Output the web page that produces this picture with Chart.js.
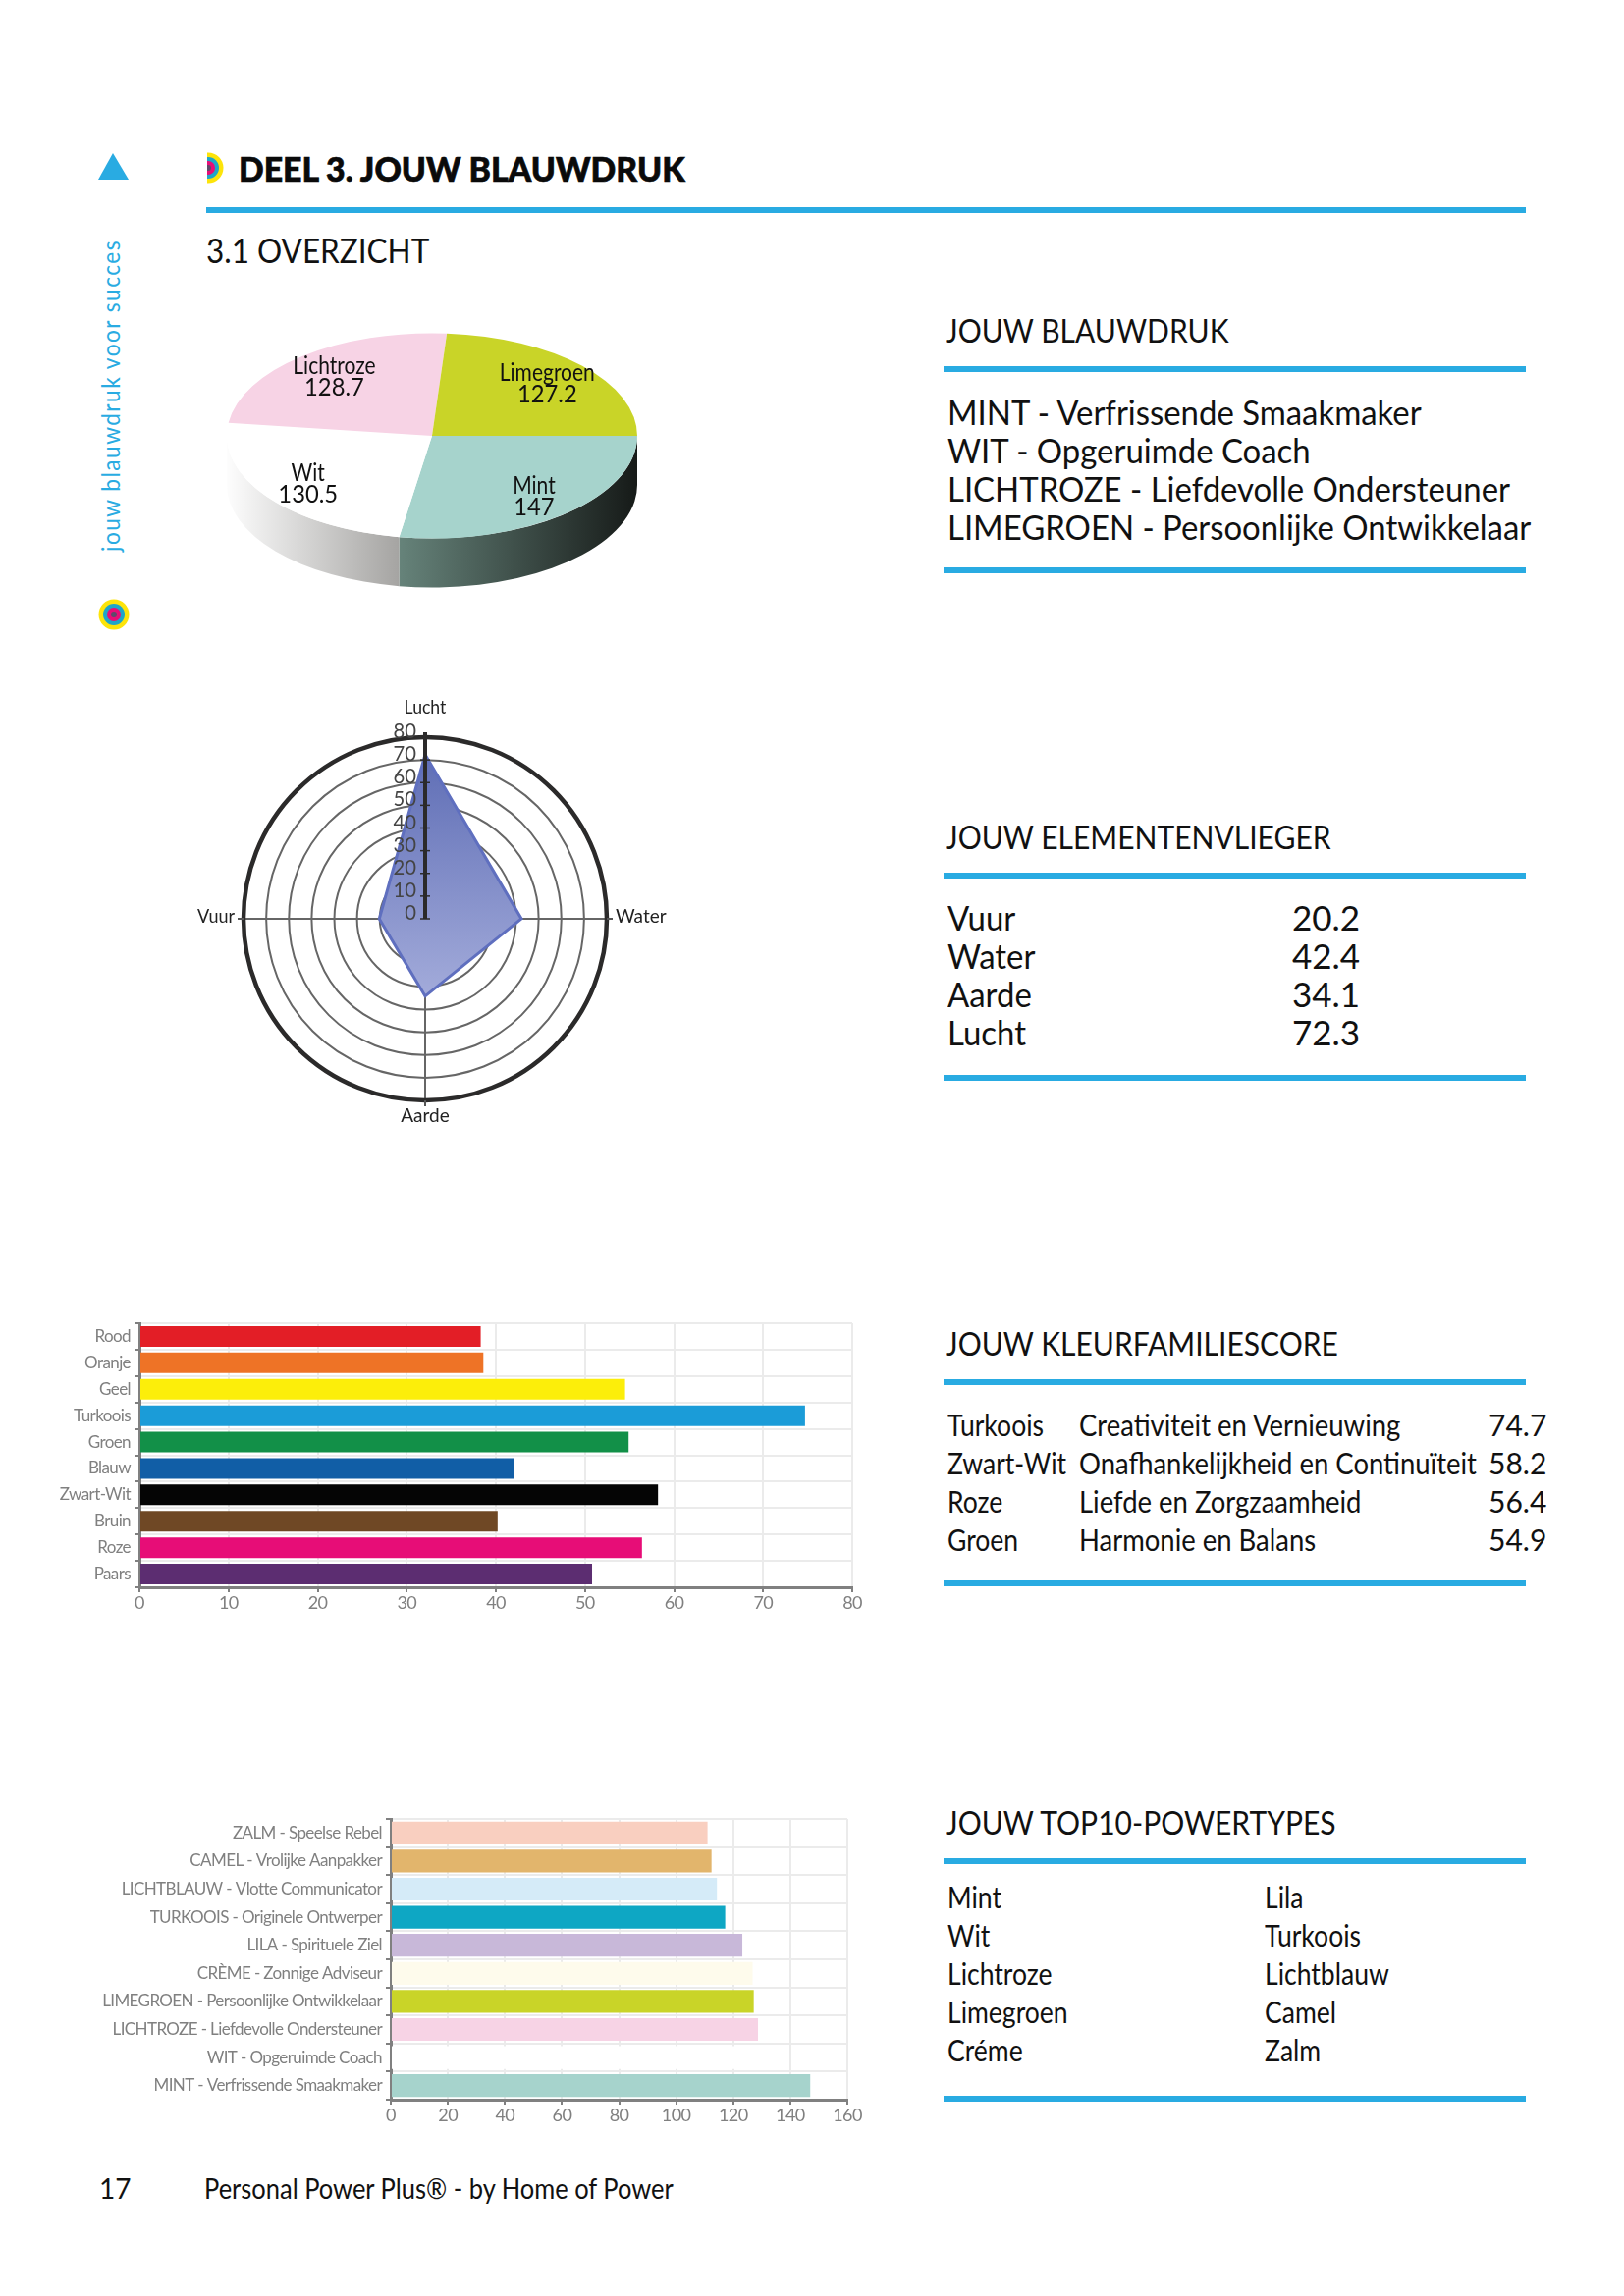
<!DOCTYPE html>
<html lang="nl">
<head>
<meta charset="utf-8">
<title>Deel 3. Jouw blauwdruk</title>
<script src="https://cdn.jsdelivr.net/npm/chart.js@4"></script>
<style>
html,body{margin:0;padding:0;background:#fff;}
#page{position:relative;width:1654px;height:2339px;overflow:hidden;font-family:Lato,"Noto Sans",sans-serif;color:#111;}
#page canvas{position:absolute;}
.t{position:absolute;white-space:nowrap;line-height:1;transform-origin:left center;}
.rule{position:absolute;background:#29abe2;height:6px;left:961px;width:593px;}
.h{font-size:33px;left:963px;transform:scaleX(.91);}
.b{font-size:35px;}
.s{font-size:30px;}
.bc{transform:scaleX(.94);}
.ec{transform:scaleX(.94);}
.sc{transform:scaleX(.885);}
.mc{transform:scaleX(.915);}
</style>
</head>
<body>
<div id="page">
  <svg style="position:absolute;left:0;top:0" width="260" height="660">
    <polygon points="115,156 100,183 131,183" fill="#29abe2"/>
    <g>
      <circle cx="116" cy="626" r="15.5" fill="#fde40a"/>
      <circle cx="116" cy="626" r="11" fill="#1fa5c9"/>
      <circle cx="116" cy="626" r="7" fill="#e70d77"/>
      <circle cx="116" cy="626" r="3" fill="#5c4a6a"/>
    </g>
    <g>
      <clipPath id="half"><rect x="211" y="150" width="30" height="44"/></clipPath>
      <g clip-path="url(#half)">
        <circle cx="212" cy="171" r="15.5" fill="#fde40a"/>
        <circle cx="212" cy="171" r="11" fill="#1fa5c9"/>
        <circle cx="212" cy="171" r="7" fill="#e70d77"/>
        <circle cx="212" cy="171" r="3" fill="#5c4a6a"/>
      </g>
    </g>
  </svg>
  <div class="t" style="left:112px;top:403px;font-size:25px;letter-spacing:1.6px;color:#29abe2;transform-origin:center;transform:translate(-50%,-50%) rotate(-90deg) scaleX(.907);">jouw blauwdruk voor succes</div>

  <div class="t" style="left:243px;top:154px;font-size:35px;font-weight:900;color:#0a0a0a;-webkit-text-stroke:.7px #0a0a0a;transform:scaleX(.965);">DEEL 3. JOUW BLAUWDRUK</div>
  <div class="rule" style="left:210px;width:1344px;top:211px;"></div>
  <div class="t" style="left:210px;top:238px;font-size:34px;transform:scaleX(.926);">3.1 OVERZICHT</div>

  <div class="t h" style="top:320px;">JOUW BLAUWDRUK</div>
  <div class="rule" style="top:373px;"></div>
  <div class="t b bc" style="left:965px;top:402px;">MINT - Verfrissende Smaakmaker</div>
  <div class="t b bc" style="left:965px;top:441px;">WIT - Opgeruimde Coach</div>
  <div class="t b bc" style="left:965px;top:480px;">LICHTROZE - Liefdevolle Ondersteuner</div>
  <div class="t b bc" style="left:965px;top:519px;">LIMEGROEN - Persoonlijke Ontwikkelaar</div>
  <div class="rule" style="top:578px;"></div>

  <div class="t h" style="top:836px;">JOUW ELEMENTENVLIEGER</div>
  <div class="rule" style="top:889px;"></div>
  <div class="t b ec" style="left:965px;top:917px;">Vuur</div><div class="t b" style="left:1316px;top:917px;">20.2</div>
  <div class="t b ec" style="left:965px;top:956px;">Water</div><div class="t b" style="left:1316px;top:956px;">42.4</div>
  <div class="t b ec" style="left:965px;top:995px;">Aarde</div><div class="t b" style="left:1316px;top:995px;">34.1</div>
  <div class="t b ec" style="left:965px;top:1034px;">Lucht</div><div class="t b" style="left:1316px;top:1034px;">72.3</div>
  <div class="rule" style="top:1095px;"></div>

  <div class="t h" style="top:1352px;">JOUW KLEURFAMILIESCORE</div>
  <div class="rule" style="top:1405px;"></div>
  <div class="t s sc" style="left:965px;top:1436px;">Turkoois</div><div class="t s mc" style="left:1099px;top:1436px;">Creativiteit en Vernieuwing</div><div class="t s" style="left:1516px;top:1436px;">74.7</div>
  <div class="t s sc" style="left:965px;top:1475px;">Zwart-Wit</div><div class="t s mc" style="left:1099px;top:1475px;">Onafhankelijkheid en Continuïteit</div><div class="t s" style="left:1516px;top:1475px;">58.2</div>
  <div class="t s sc" style="left:965px;top:1514px;">Roze</div><div class="t s mc" style="left:1099px;top:1514px;">Liefde en Zorgzaamheid</div><div class="t s" style="left:1516px;top:1514px;">56.4</div>
  <div class="t s sc" style="left:965px;top:1553px;">Groen</div><div class="t s mc" style="left:1099px;top:1553px;">Harmonie en Balans</div><div class="t s" style="left:1516px;top:1553px;">54.9</div>
  <div class="rule" style="top:1610px;"></div>

  <div class="t h" style="top:1840px;">JOUW TOP10-POWERTYPES</div>
  <div class="rule" style="top:1893px;"></div>
  <div class="t s sc" style="left:965px;top:1917px;">Mint</div><div class="t s sc" style="left:1288px;top:1917px;">Lila</div>
  <div class="t s sc" style="left:965px;top:1956px;">Wit</div><div class="t s sc" style="left:1288px;top:1956px;">Turkoois</div>
  <div class="t s sc" style="left:965px;top:1995px;">Lichtroze</div><div class="t s sc" style="left:1288px;top:1995px;">Lichtblauw</div>
  <div class="t s sc" style="left:965px;top:2034px;">Limegroen</div><div class="t s sc" style="left:1288px;top:2034px;">Camel</div>
  <div class="t s sc" style="left:965px;top:2073px;">Créme</div><div class="t s sc" style="left:1288px;top:2073px;">Zalm</div>
  <div class="rule" style="top:2135px;"></div>

  <div class="t" style="left:101px;top:2215px;font-size:28px;">17</div>
  <div class="t" style="left:208px;top:2215px;font-size:28px;transform:scaleX(.91);">Personal Power Plus® - by Home of Power</div>

  <canvas id="pie" style="left:220px;top:224px" width="440" height="440"></canvas>
  <canvas id="radar" style="left:173px;top:676px" width="520" height="520"></canvas>
  <canvas id="fam" style="left:50px;top:1330px" width="860" height="320"></canvas>
  <canvas id="top10" style="left:90px;top:1830px" width="800" height="340"></canvas>
</div>

<script>
// taartdiagram
const pieLabels = ['Mint','Wit','Lichtroze','Limegroen'];
const pieValues = [147,130.5,128.7,127.2];
const pieColors = ['#a6d3cc','#ffffff','#f7d3e5','#c9d428'];
const pieWallFrom = ['#66837a','#fdfdfd'];
const pieWallTo = ['#161a18','#a5a4a2'];

// elementenvlieger
const radarLabels = ['Lucht','Water','Aarde','Vuur'];
const radarValues = [72.3,42.4,34.1,20.2];

// kleurfamilies
const famLabels = ['Rood','Oranje','Geel','Turkoois','Groen','Blauw','Zwart-Wit','Bruin','Roze','Paars'];
const famValues = [38.3,38.6,54.5,74.7,54.9,42,58.2,40.2,56.4,50.8];
const famColors = ['#e31e26','#ee7326','#fcee0a','#1b9cd8','#129048','#115ea6','#050505','#6f4825','#e70d77','#5c2d71'];

// powertypes
const topLabels = ['ZALM - Speelse Rebel','CAMEL - Vrolijke Aanpakker','LICHTBLAUW - Vlotte Communicator','TURKOOIS - Originele Ontwerper','LILA - Spirituele Ziel','CRÈME - Zonnige Adviseur','LIMEGROEN - Persoonlijke Ontwikkelaar','LICHTROZE - Liefdevolle Ondersteuner','WIT - Opgeruimde Coach','MINT - Verfrissende Smaakmaker'];
const topValues = [111,112.4,114.3,117.2,123.2,126.8,127.2,128.7,130.5,147];
const topColors = ['#f9cfc0','#e2b56c','#d5ebf8','#0ea7c4','#c8b8d9','#fefbec','#c9d428','#f7d3e5','#ffffff','#a6d3cc'];

const FONT = 'Lato';
Chart.defaults.font.family = FONT;
Chart.defaults.animation = false;
Chart.defaults.responsive = false;
Chart.defaults.plugins.legend.display = false;
Chart.defaults.plugins.tooltip.enabled = false;

const TILT = 0.5, WALL = 50;

// tekst iets smaller zetten, de futura van het origineel loopt krapper dan Lato
function narrowText(ctx,text,x,y,sx){
  ctx.save();
  ctx.translate(x,y); ctx.scale(sx,1);
  ctx.fillText(text,0,0);
  ctx.restore();
}

// schuine taart: muur tekenen, cirkel platdrukken, labels er los overheen
const tiltPlugin = {
  id:'tilt',
  beforeDatasetsDraw(chart){
    const {ctx} = chart, arcs = chart.getDatasetMeta(0).data;
    arcs.forEach((a,i)=>{
      const s = Math.max(a.startAngle,0), e = Math.min(a.endAngle,Math.PI);
      if(e<=s) return;
      const R = a.outerRadius, cx = a.x, cy = a.y;
      const x1 = cx+R*Math.cos(s), x2 = cx+R*Math.cos(e);
      const g = ctx.createLinearGradient(x2,0,x1,0);
      g.addColorStop(0,pieWallFrom[i]); g.addColorStop(1,pieWallTo[i]);
      ctx.beginPath();
      ctx.ellipse(cx,cy,R,R*TILT,0,s,e);
      ctx.lineTo(x2,cy+R*TILT*Math.sin(e)+WALL);
      ctx.ellipse(cx,cy+WALL,R,R*TILT,0,e,s,true);
      ctx.closePath();
      ctx.fillStyle = g; ctx.fill();
    });
    const c = arcs[0];
    ctx.save();
    ctx.translate(c.x,c.y); ctx.scale(1,TILT); ctx.translate(-c.x,-c.y);
  },
  afterDatasetsDraw(chart){
    const {ctx} = chart;
    ctx.restore();
    ctx.font = '25px '+FONT; ctx.fillStyle = '#111'; ctx.textAlign = 'center'; ctx.textBaseline = 'middle';
    chart.getDatasetMeta(0).data.forEach((a,i)=>{
      const m = (a.startAngle+a.endAngle)/2, r = a.outerRadius*.76;
      const x = a.x+r*Math.cos(m)+1, y = a.y+r*TILT*Math.sin(m)+1;
      narrowText(ctx,pieLabels[i],x,y-11,.84);
      narrowText(ctx,String(pieValues[i]),x,y+11,.95);
    });
  }
};

new Chart(document.getElementById('pie'),{
  type:'pie',
  data:{labels:pieLabels,datasets:[{data:pieValues,backgroundColor:pieColors,borderWidth:0}]},
  options:{rotation:90,radius:209,layout:{padding:0},events:[]},
  plugins:[tiltPlugin]
});

// zwarte buitenring en schaal op de bovenste as
const ringPlugin = {
  id:'ring',
  afterDatasetsDraw(chart){
    const {ctx} = chart, r = chart.scales.r;
    const cx = r.xCenter, cy = r.yCenter, R = r.drawingArea;
    ctx.save();
    ctx.strokeStyle = '#2b2a2a'; ctx.lineWidth = 4.5;
    ctx.beginPath(); ctx.arc(cx,cy,R,0,Math.PI*2); ctx.stroke();
    ctx.lineWidth = 4; ctx.beginPath(); ctx.moveTo(cx,cy); ctx.lineTo(cx,cy-R-5); ctx.stroke();
    ctx.lineWidth = 1.5;
    ctx.font = '22px '+FONT; ctx.fillStyle = '#444'; ctx.textAlign = 'right'; ctx.textBaseline = 'middle';
    r.ticks.forEach(t=>{
      const y = r.getPointPositionForValue(0,t.value).y;
      ctx.beginPath(); ctx.moveTo(cx-5,y); ctx.lineTo(cx+5,y); ctx.stroke();
      narrowText(ctx,t.label,cx-9,y-6,.92);
    });
    ctx.strokeStyle = '#555'; ctx.lineWidth = 2;
    ctx.beginPath();
    ctx.moveTo(cx-R-6,cy); ctx.lineTo(cx-R,cy);
    ctx.moveTo(cx+R,cy); ctx.lineTo(cx+R+6,cy);
    ctx.moveTo(cx,cy+R); ctx.lineTo(cx,cy+R+6);
    ctx.stroke();
    ctx.restore();
  }
};

const radarCanvas = document.getElementById('radar');
const radarFill = radarCanvas.getContext('2d').createLinearGradient(0,90,0,350);
radarFill.addColorStop(0,'#5e6db5');
radarFill.addColorStop(1,'#a6aedc');

new Chart(radarCanvas,{
  type:'radar',
  data:{labels:radarLabels,datasets:[{data:radarValues,backgroundColor:radarFill,fill:true,borderColor:'#5f6fbf',borderWidth:3,pointRadius:0,tension:0}]},
  options:{
    layout:{padding:{left:75,right:75,top:75,bottom:75}},
    scales:{r:{
      min:0,max:80,
      beginAtZero:true,
      ticks:{stepSize:10,display:false},
      grid:{circular:true,color:'#666',lineWidth:2},
      angleLines:{color:'#666',lineWidth:2},
      pointLabels:{display:false}
    }}
  },
  plugins:[ringPlugin,{
    id:'windstreken',
    afterDraw(chart){
      const {ctx} = chart, r = chart.scales.r, cx = r.xCenter, cy = r.yCenter, R = r.drawingArea;
      ctx.save(); ctx.font = '20px '+FONT; ctx.fillStyle = '#222'; ctx.textBaseline = 'middle';
      ctx.textAlign = 'center';
      narrowText(ctx,radarLabels[0],cx,cy-R-30,.88);
      narrowText(ctx,radarLabels[2],cx,cy+R+16,.95);
      ctx.textAlign = 'left'; narrowText(ctx,radarLabels[1],cx+R+9,cy-2,.95);
      ctx.textAlign = 'right'; narrowText(ctx,radarLabels[3],cx-R-9,cy-2,.9);
      ctx.restore();
    }
  }]
});

// horizontale staven, gemeenschappelijke opties
const tightLabels = {id:'tightLabels',beforeUpdate(chart){chart.ctx.letterSpacing = '-0.6px';}};

function barChart(id,labels,values,colors,max,step,axisW,axisH,pad,barPct){
  new Chart(document.getElementById(id),{
    type:'bar',
    data:{labels,datasets:[{data:values,backgroundColor:colors,barPercentage:barPct,categoryPercentage:1}]},
    options:{
      indexAxis:'y',
      layout:{padding:pad},
      scales:{
        x:{min:0,max,afterFit(s){s.height = axisH;},
           ticks:{stepSize:step,color:'#808080',font:{size:18},padding:0,minRotation:0,maxRotation:0,autoSkip:false},
           grid:{color:'#ebebeb',lineWidth:2,tickColor:'#808080',tickLength:5},
           border:{color:'#808080',width:3}},
        y:{afterFit(s){s.width = axisW;},
           ticks:{color:'#808080',font:{size:17},padding:4,autoSkip:false},
           grid:{color:'#ebebeb',lineWidth:2,tickColor:'#808080',tickLength:5},
           border:{color:'#808080',width:3}}
      }
    },
    plugins:[tightLabels]
  });
}
barChart('fam',famLabels,famValues,famColors,80,10,92,33,{left:0,right:42,top:18,bottom:0},.78);
barChart('top10',topLabels,topValues,topColors,160,20,308,31,{left:0,right:27,top:23,bottom:0},.81);
</script>
</body>
</html>
